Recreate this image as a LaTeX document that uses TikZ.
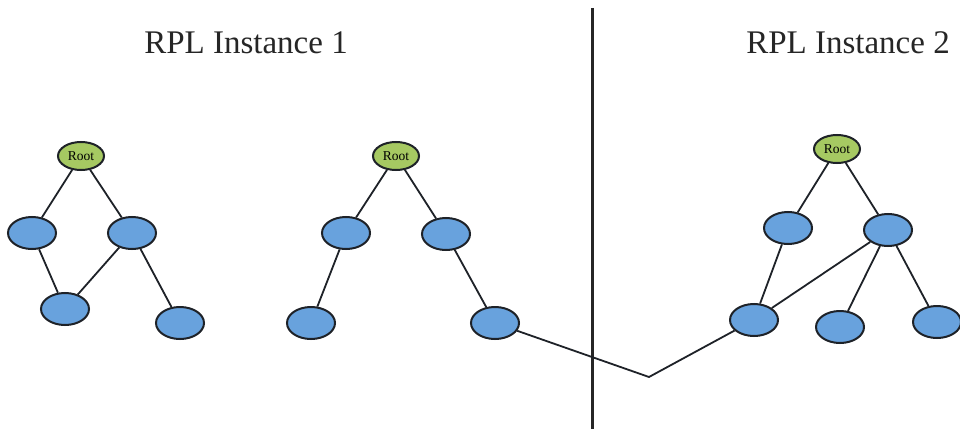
\documentclass[tikz,border=0pt]{standalone}
\usepackage{fontspec}
\setmainfont{Liberation Serif}
\usetikzlibrary{shapes.geometric}
\definecolor{rootgreen}{RGB}{166,201,98}
\definecolor{nodeblue}{RGB}{104,162,221}
\definecolor{edgeblk}{RGB}{30,34,40}
\tikzset{
  rootnode/.style={ellipse, draw=edgeblk, line width=2pt, fill=rootgreen,
    minimum width=46pt, minimum height=28pt, inner sep=0pt,
    font=\fontsize{13.5}{14}\selectfont},
  bluenode/.style={ellipse, draw=edgeblk, line width=2pt, fill=nodeblue,
    minimum width=48pt, minimum height=32pt, inner sep=0pt},
  link/.style={draw=edgeblk, line width=1.8pt},
  title/.style={font=\fontsize{33}{36}\selectfont, text=black!85},
  divider/.style={draw=black!85, line width=3pt}
}
\begin{document}
\begin{tikzpicture}[x=1pt,y=1pt]
\useasboundingbox[fill=white] (0,0) rectangle (960,429);
% titles
\node[title] (t1) at (246,386) {RPL Instance 1};
\node[title] (t2) at (848,386) {RPL Instance 2};
% divider
\coordinate (vtop) at (592,421);
\coordinate (vbot) at (592,0);
\draw[divider] (vtop) -- (vbot);
% tree 1
\node[rootnode] (r1) at (81,273) {Root};
\node[bluenode] (a1) at (32,196) {};
\node[bluenode] (b1) at (132,196) {};
\node[bluenode] (c1) at (65,120) {};
\node[bluenode] (d1) at (180,106) {};
% tree 2
\node[rootnode] (r2) at (396,273) {Root};
\node[bluenode] (a2) at (346,196) {};
\node[bluenode] (b2) at (446,195) {};
\node[bluenode] (c2) at (311,106) {};
\node[bluenode] (d2) at (495,106) {};
% tree 3
\node[rootnode] (r3) at (837,280) {Root};
\node[bluenode] (a3) at (788,201) {};
\node[bluenode] (b3) at (888,199) {};
\node[bluenode] (c3) at (754,109) {};
\node[bluenode] (d3) at (840,102) {};
\node[bluenode] (e3) at (937,107) {};
\coordinate (bend) at (649,52);
% edges
\draw[link] (r1) -- (a1);
\draw[link] (r1) -- (b1);
\draw[link] (a1) -- (c1);
\draw[link] (b1) -- (c1);
\draw[link] (b1) -- (d1);
\draw[link] (r2) -- (a2);
\draw[link] (r2) -- (b2);
\draw[link] (a2) -- (c2);
\draw[link] (b2) -- (d2);
\draw[link] (r3) -- (a3);
\draw[link] (r3) -- (b3);
\draw[link] (a3) -- (c3);
\draw[link] (b3) -- (c3);
\draw[link] (b3) -- (d3);
\draw[link] (b3) -- (e3);
\draw[link] (d2) -- (bend) -- (c3);
\end{tikzpicture}
\end{document}
